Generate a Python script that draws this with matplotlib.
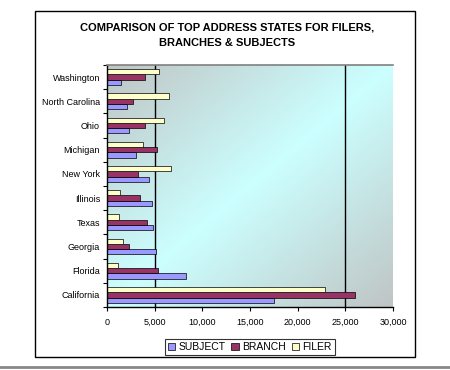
import numpy as np
import matplotlib
matplotlib.use('Agg')
from matplotlib import pyplot as plt
from matplotlib.patches import Rectangle
from matplotlib.lines import Line2D

plt.rcParams['font.family'] = ['Liberation Sans', 'DejaVu Sans']

states = ['California', 'Florida', 'Georgia', 'Texas', 'Illinois',
          'New York', 'Michigan', 'Ohio', 'North Carolina', 'Washington']
subject = [17470, 8280, 5130, 4820, 4720, 4400, 3070, 2270, 2060, 1430]
branch = [26060, 5310, 2340, 4190, 3460, 3300, 5240, 3980, 2720, 3980]
filer = [22900, 1110, 1710, 1220, 1390, 6670, 3800, 6000, 6500, 5480]
xticks = [0, 5000, 10000, 15000, 20000, 25000, 30000]

fig = plt.figure(figsize=(4.5, 3.7), dpi=100)
fig.patch.set_facecolor('white')

# outer chart border and gray rule at the bottom
fig.patches.append(Rectangle((0.0778, 0.0351), 0.8438, 0.936, transform=fig.transFigure,
                             fill=False, edgecolor='black', linewidth=1.0))
fig.lines.append(Line2D([0, 1], [0.008, 0.008], transform=fig.transFigure,
                        color='#888888', linewidth=2))

ax = fig.add_axes([0.2378, 0.1703, 0.6355, 0.654])

# diagonal gradient background: gray - cyan - gray
n = 200
gx, gy = np.meshgrid(np.linspace(0, 1, n), np.linspace(0, 1, n))
t = (gx + gy) / 2
w = 1 - np.abs(t - 0.5) * 2
gray = np.array([0.75, 0.77, 0.77])
cyan = np.array([0.80, 1.0, 1.0])
img = gray[None, None, :] * (1 - w[..., None]) + cyan[None, None, :] * w[..., None]
ax.imshow(img, extent=[0, 1, 0, 1], transform=ax.transAxes, aspect='auto', zorder=0)

y = np.arange(len(states))
h = 0.22
ax.axvline(5000, color='black', linewidth=1, zorder=1)
ax.axvline(25000, color='black', linewidth=1, zorder=1)
ax.barh(y - h, subject, height=h, color='#9999FF', edgecolor='black', linewidth=0.5, label='SUBJECT', zorder=2)
ax.barh(y, branch, height=h, color='#993366', edgecolor='black', linewidth=0.5, label='BRANCH', zorder=2)
ax.barh(y + h, filer, height=h, color='#FFFFCC', edgecolor='black', linewidth=0.5, label='FILER', zorder=2)

ax.set_xlim(0, 30000)
ax.set_ylim(-0.5, len(states) - 0.5)
ax.set_xticks(xticks)
ax.set_xticklabels([f'{v:,}' for v in xticks], fontsize=6.5)
ax.set_yticks(y)
ax.set_yticklabels(states, fontsize=6.5)
ax.set_yticks(np.arange(-0.5, len(states)), minor=True)
ax.tick_params(axis='y', which='major', length=0, pad=5)
ax.tick_params(axis='y', which='minor', length=3, width=0.8, direction='out')
ax.tick_params(axis='x', length=3, width=0.8, direction='out', pad=5)

ax.spines['right'].set_visible(False)
ax.spines['top'].set_color('#808080')
ax.spines['top'].set_linewidth(1.2)
ax.spines['left'].set_linewidth(1)
ax.spines['bottom'].set_linewidth(1)

fig.text(0.505, 0.905, 'COMPARISON OF TOP ADDRESS STATES FOR FILERS,\nBRANCHES & SUBJECTS',
         ha='center', va='center', fontsize=8, fontweight='bold', linespacing=1.75)

leg = fig.legend(loc='center', bbox_to_anchor=(0.555, 0.062), ncol=3, fontsize=7.5,
                 frameon=True, fancybox=False, edgecolor='black', handlelength=0.7,
                 handleheight=0.7, handletextpad=0.3, columnspacing=0.6,
                 borderpad=0.3, borderaxespad=0)
leg.get_frame().set_linewidth(0.8)

fig.savefig('out.png', dpi=100, facecolor='white')
